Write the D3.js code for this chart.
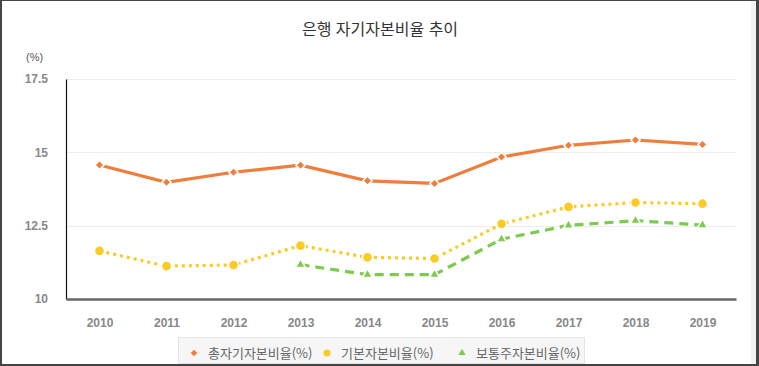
<!DOCTYPE html>
<html lang="ko">
<head>
<meta charset="UTF-8">
<title>은행 자기자본비율 추이</title>
<script src="https://d3js.org/d3.v7.min.js"></script>
<style>
  body { margin: 0; background: #fff; font-family: "Noto Sans CJK KR", "Noto Sans", sans-serif; }
</style>
</head>
<body>
<div id="chart"></div>
<script>
const years = ["2010","2011","2012","2013","2014","2015","2016","2017","2018","2019"];
const totalRatio = [14.57, 13.98, 14.32, 14.56, 14.03, 13.94, 14.84, 15.24, 15.42, 15.27];
const tier1Ratio = [11.64, 11.12, 11.16, 11.82, 11.42, 11.38, 12.56, 13.14, 13.29, 13.25];
const cet1Ratio  = [null, null, null, 11.17, 10.83, 10.83, 12.04, 12.51, 12.67, 12.52];
const yTicks = [10, 12.5, 15, 17.5];
const seriesNames = ["총자기자본비율(%)", "기본자본비율(%)", "보통주자본비율(%)"];

const W = 759, H = 366;
const svg = d3.select("#chart").append("svg")
    .attr("width", W).attr("height", H);

// frame
svg.append("rect").attr("x", 0.5).attr("y", 0.5).attr("width", W - 1).attr("height", H - 1)
    .attr("fill", "#fff").attr("stroke", "#444").attr("stroke-width", 1);
svg.append("rect").attr("x", 0).attr("y", 0).attr("width", 2).attr("height", H).attr("fill", "#444");
svg.append("rect").attr("x", 0).attr("y", H - 2).attr("width", W).attr("height", 2).attr("fill", "#444");
svg.append("rect").attr("x", W - 3).attr("y", 0).attr("width", 3).attr("height", H).attr("fill", "#444");
svg.append("rect").attr("x", W - 8).attr("y", 1).attr("width", 5).attr("height", H - 3).attr("fill", "#f2f2f2");

const x = d3.scalePoint().domain(years).range([66, 736]).padding(0.5);
const y = d3.scaleLinear().domain([10, 17.5]).range([299, 79]);

// title
svg.append("text").attr("x", 380).attr("y", 35).attr("text-anchor", "middle")
    .attr("font-size", 16).attr("fill", "#333").text("은행 자기자본비율 추이");

svg.append("text").attr("x", 26).attr("y", 61)
    .attr("font-size", 11).attr("fill", "#555").attr("font-family", "Arial, Liberation Sans")
    .text("(%)");

// grid
svg.append("g").selectAll("line").data(yTicks.filter(d => d > 10)).join("line")
    .attr("x1", 66).attr("x2", 736)
    .attr("y1", d => Math.round(y(d)) + 0.5).attr("y2", d => Math.round(y(d)) + 0.5)
    .attr("stroke", "#ececec");

// y axis
const yAxis = svg.append("g").attr("transform", "translate(66,0)")
    .call(d3.axisLeft(y).tickValues(yTicks).tickSize(0).tickPadding(18).tickFormat(d3.format("")));
yAxis.select(".domain").attr("stroke", "#111").attr("stroke-width", 1.2);
yAxis.selectAll("text").attr("font-size", 12).attr("font-weight", "bold")
    .attr("fill", "#888").attr("font-family", "Arial, Liberation Sans");

// x axis
const xAxis = svg.append("g").attr("transform", "translate(0,299)")
    .call(d3.axisBottom(x).tickSize(0).tickPadding(19));
xAxis.select(".domain").attr("stroke", "#666").attr("stroke-width", 2.5);
xAxis.selectAll("text").attr("font-size", 12).attr("font-weight", "bold")
    .attr("fill", "#888").attr("font-family", "Arial, Liberation Sans");

const series = [
  { values: totalRatio, color: "#ef7d3c", dash: null, shape: d3.symbolSquare, rot: 45, size: 42 },
  { values: tier1Ratio, color: "#fbcb25", dash: "3,4", shape: d3.symbolCircle, rot: 0, size: 80 },
  { values: cet1Ratio,  color: "#7ccb4f", dash: "9,6", shape: d3.symbolTriangle, rot: 0, size: 45 }
];

const line = d3.line()
    .defined(d => d != null)
    .x((d, i) => x(years[i]))
    .y(d => y(d));

series.forEach(s => {
  svg.append("path").datum(s.values)
      .attr("d", line)
      .attr("fill", "none")
      .attr("stroke", s.color)
      .attr("stroke-width", 3.2)
      .attr("stroke-dasharray", s.dash);
});

series.forEach(s => {
  svg.append("g").selectAll("path")
      .data(s.values.map((v, i) => ({ v, i })).filter(d => d.v != null))
      .join("path")
      .attr("transform", d => `translate(${x(years[d.i])},${y(d.v)}) rotate(${s.rot})`)
      .attr("d", d3.symbol().type(s.shape).size(s.size))
      .attr("fill", s.color)
      .attr("stroke", "#fff")
      .attr("stroke-width", 1.5);
});

// legend
const lg = svg.append("g");
lg.append("rect").attr("x", 178.5).attr("y", 337.5).attr("width", 406).attr("height", 26)
    .attr("fill", "#f6f6f6").attr("stroke", "#e4e4e4");
const legendX = [194, 327, 462];
series.forEach((s, i) => {
  lg.append("path")
      .attr("transform", `translate(${legendX[i]},353) rotate(${s.rot})`)
      .attr("d", d3.symbol().type(s.shape).size(s.size * 0.5))
      .attr("fill", s.color);
  lg.append("text").attr("x", legendX[i] + 14).attr("y", 358)
      .attr("font-size", 13).attr("fill", "#666")
      .text(seriesNames[i]);
});
</script>
</body>
</html>
